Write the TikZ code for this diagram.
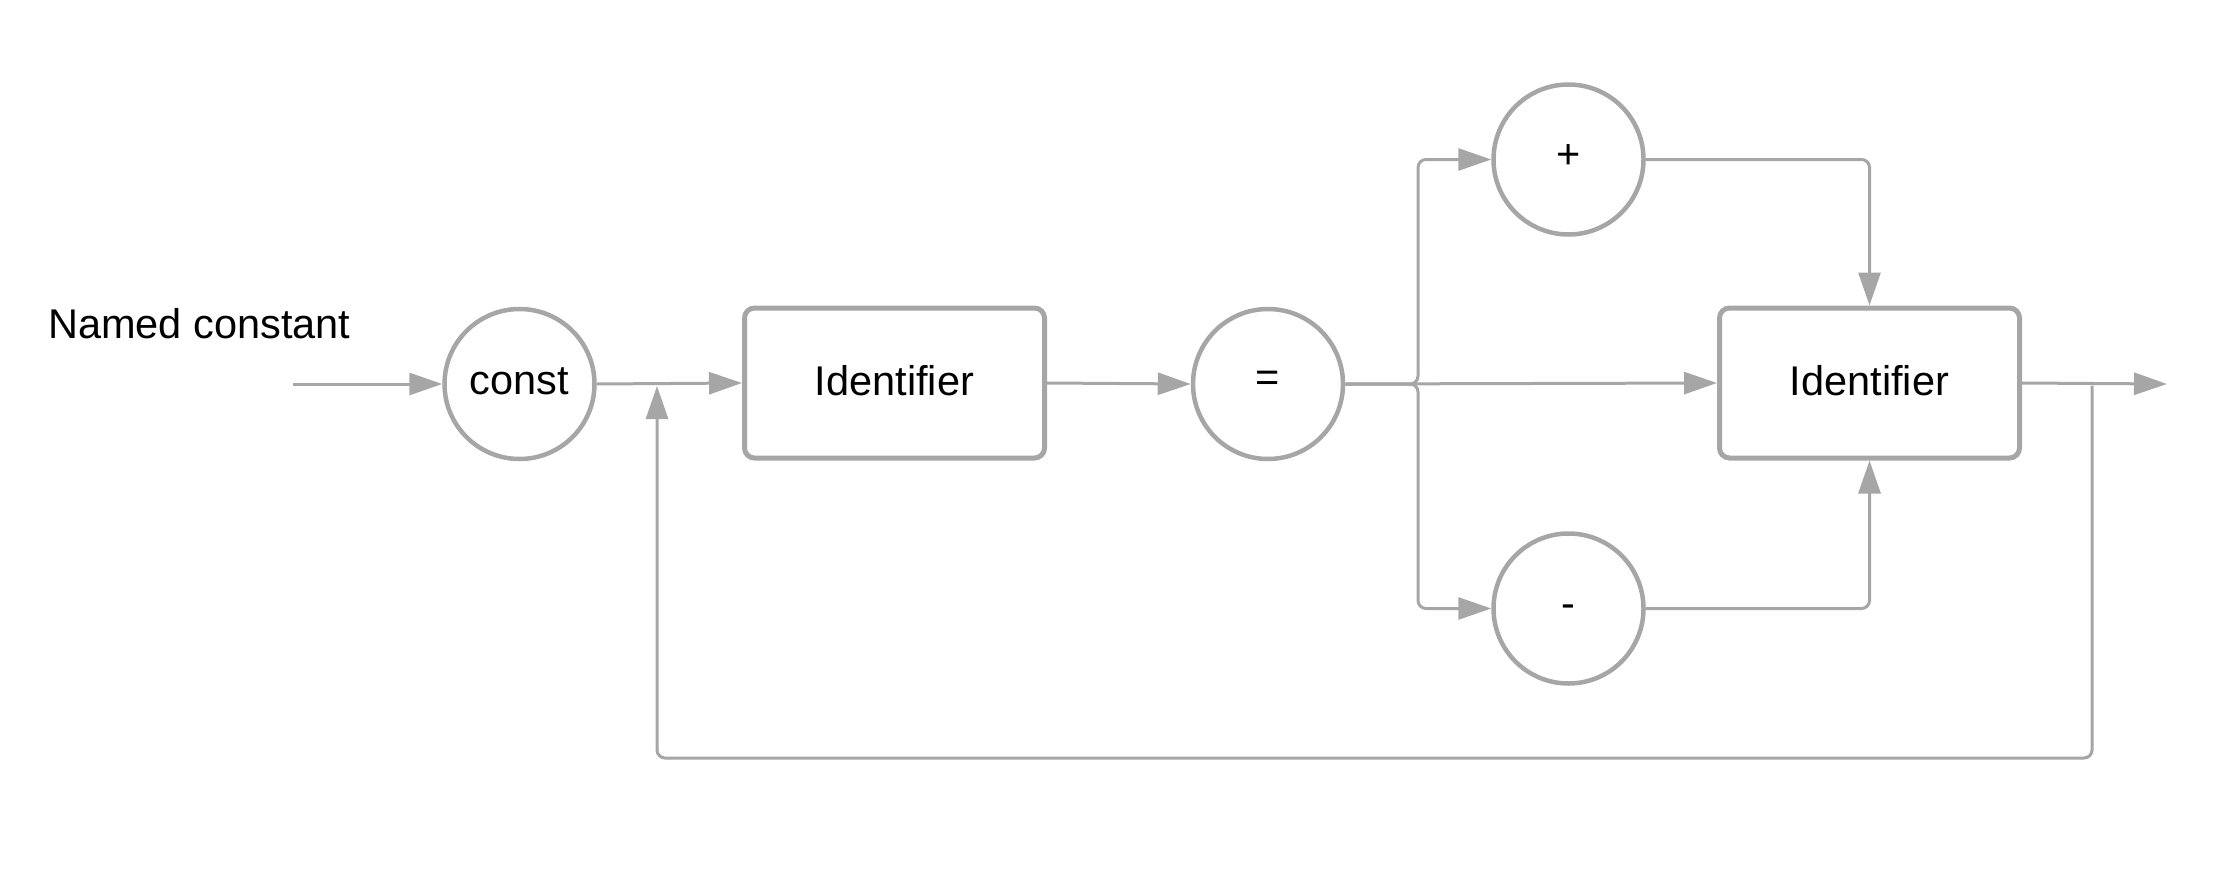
\documentclass[tikz,border=0pt]{standalone}
\usepackage{fontspec}
\setmainfont{Liberation Sans}
\usetikzlibrary{arrows.meta}
\definecolor{lg}{HTML}{A6A6A6}
\begin{document}
\begin{tikzpicture}[x=1pt,y=-1pt,
  font=\fontsize{41.5}{50}\selectfont,
  termnode/.style={circle,draw=lg,line width=4.5pt,minimum size=150pt,inner sep=0pt,fill=white,text depth=6pt},
  boxnode/.style={rectangle,rounded corners=10pt,draw=lg,line width=5pt,minimum width=300pt,minimum height=150pt,inner sep=0pt,fill=white,text depth=6pt},
  conn/.style={draw=lg,line width=3pt,rounded corners=8pt},
  arr/.style={conn,-{Triangle[length=33pt,width=22pt]}}
]
\useasboundingbox (0,0) rectangle (2220,870);
\node[anchor=base west,inner sep=0pt] (title) at (48,338) {Named constant};
\node[termnode] (const) at (519.5,384) {const};
\node[boxnode] (id1) at (894.5,383) {Identifier};
\node[termnode] (eq) at (1268,384) {=};
\node[termnode] (plus) at (1568.5,159.5) {+};
\node[termnode,text height=18pt,text depth=0pt] (minus) at (1568.5,608.5) {-};
\node[boxnode] (id2) at (1869.5,383) {Identifier};
\coordinate (start) at (293,384);
\coordinate (exit) at (2167,384);
\coordinate (bu) at (1418,384);
\coordinate (bup) at (1418,159.5);
\coordinate (bdn) at (1418,608.5);
\coordinate (pc) at (1869.5,159.5);
\coordinate (mc) at (1869.5,608.5);
\coordinate (ls) at (2092,385.5);
\coordinate (lb1) at (2092,758);
\coordinate (lb2) at (657,758);
\coordinate (le) at (657,386);
\draw[arr] (start) -- (const.west);
\draw[arr] (const.east) -- (id1.west);
\draw[arr] (id1.east) -- (eq.west);
\draw[arr] (eq.east) -- (bu) -- (bup) -- (plus.west);
\draw[arr] (eq.east) -- (id2.west);
\draw[arr] (eq.east) -- (bu) -- (bdn) -- (minus.west);
\draw[arr] (plus.east) -- (pc) -- (id2.north);
\draw[arr] (minus.east) -- (mc) -- (id2.south);
\draw[arr] (id2.east) -- (exit);
\draw[arr] (ls) -- (lb1) -- (lb2) -- (le);
\end{tikzpicture}
\end{document}
